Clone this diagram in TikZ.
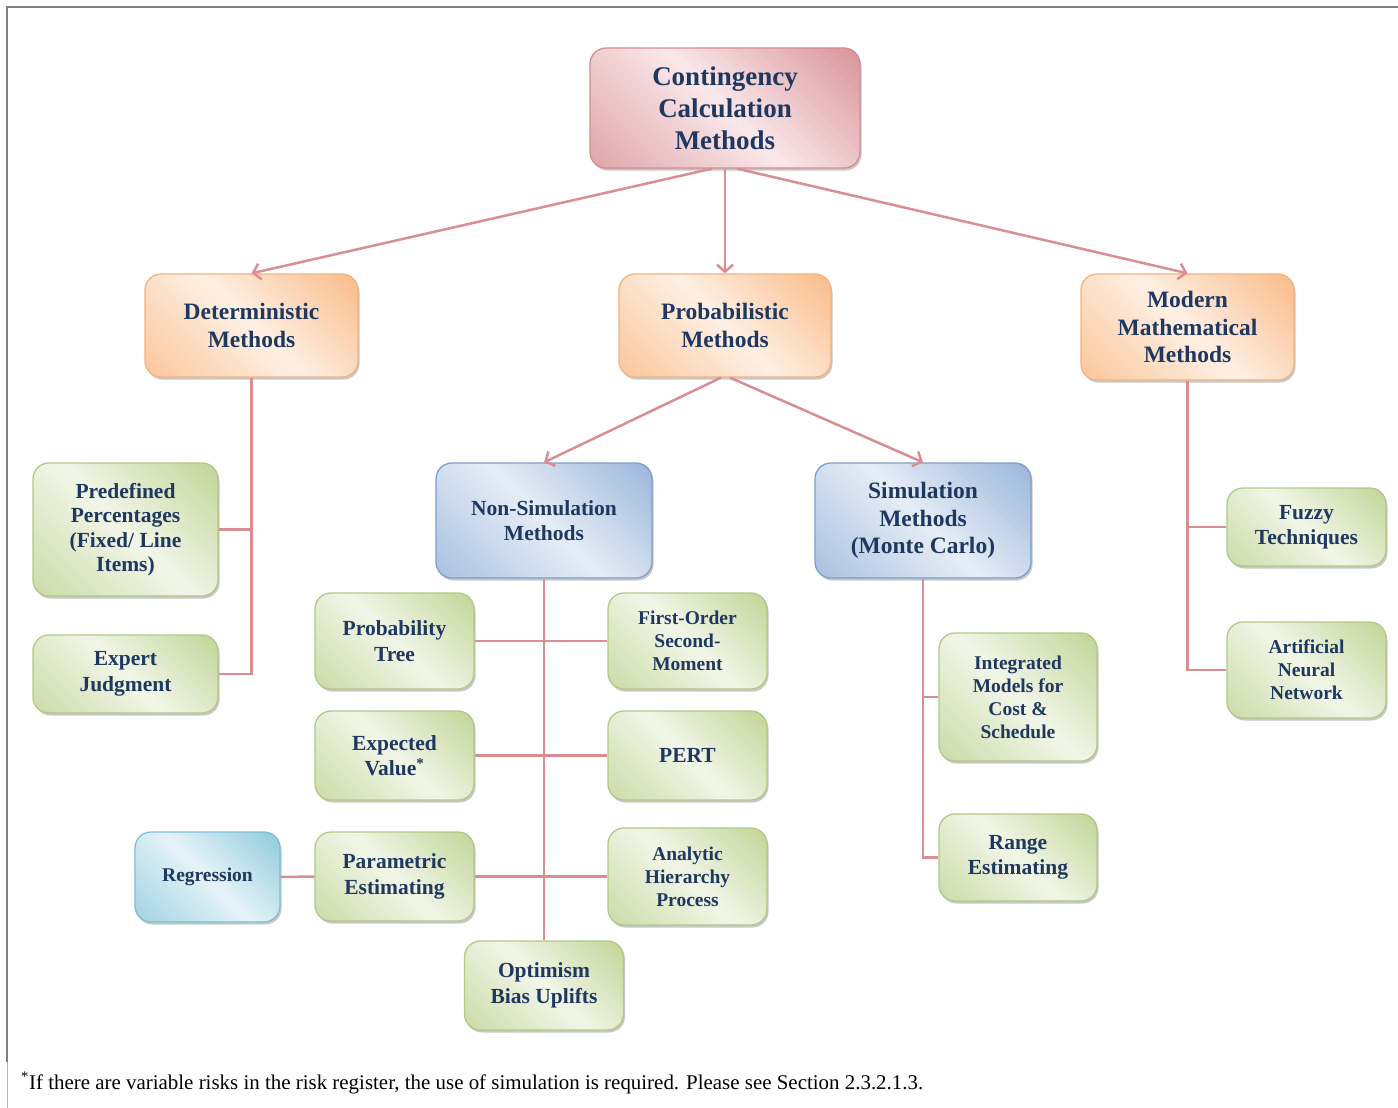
\documentclass[tikz,border=0pt]{standalone}
\usepackage{fontspec}
\setmainfont{Liberation Serif}
\usepackage{graphicx}
\usetikzlibrary{arrows.meta,calc}
\definecolor{txt}{RGB}{31,56,96}
\definecolor{connc}{RGB}{217,142,146}
\definecolor{pinkD}{RGB}{216,146,151}
\definecolor{pinkL}{RGB}{250,232,234}
\definecolor{pinkB}{RGB}{212,140,146}
\definecolor{orD}{RGB}{250,186,134}
\definecolor{orL}{RGB}{254,240,228}
\definecolor{orB}{RGB}{244,178,128}
\definecolor{blD}{RGB}{152,180,218}
\definecolor{blL}{RGB}{230,237,246}
\definecolor{blB}{RGB}{126,158,204}
\definecolor{grD}{RGB}{192,212,148}
\definecolor{grL}{RGB}{242,246,232}
\definecolor{grB}{RGB}{178,200,134}
\definecolor{cyD}{RGB}{140,202,218}
\definecolor{cyL}{RGB}{230,243,248}
\definecolor{cyB}{RGB}{124,190,210}
\definecolor{framec}{RGB}{128,128,128}
% #1 options, #2 name, #3 cx, #4 cy, #5 w, #6 h, #7 dark, #8 light, #9 text
\newcommand\gnode[9][]{%
  \fill[black!55, opacity=0.4, rounded corners=16pt] ({#3-#5/2+1.5},{#4-#6/2+2.5}) rectangle ({#3+#5/2+1.5},{#4+#6/2+2.5});
  \begin{scope}
    \clip[rounded corners=16pt] ({#3-#5/2},{#4-#6/2}) rectangle ({#3+#5/2},{#4+#6/2});
    \pgfmathsetmacro\gL{(#5+#6)/2.8284+2}
    \begin{scope}[shift={(#3,#4)}, rotate=45]
      \foreach \i in {-20,...,19}{%
        \pgfmathsetmacro\sA{\i*\gL/20}%
        \pgfmathsetmacro\sB{(\i+1)*\gL/20+0.8}%
        \pgfmathsetmacro\pp{\i<0 ? min(100,abs(\i+0.5)/20*80) : min(100,abs(\i+0.5)/20*100)}%
        \fill[#7!\pp!#8] (\sA pt,-300pt) rectangle (\sB pt,300pt);
      }
    \end{scope}
  \end{scope}
  \node[base,#1,minimum width=#5pt,minimum height=#6pt] (#2) at (#3,#4) {#9};
}
\tikzset{
  base/.style={rounded corners=16pt, draw, line width=1.3pt, align=center, text=txt, inner sep=0pt},
  pinkbox/.style={draw=pinkB},
  orbox/.style={draw=orB},
  blbox/.style={draw=blB},
  grbox/.style={draw=grB},
  cybox/.style={draw=cyB},
  fA/.style={font=\bfseries\fontsize{27}{32}\selectfont},
  fB/.style={font=\bfseries\fontsize{23.5}{27.5}\selectfont},
  fC/.style={font=\bfseries\fontsize{21.5}{25.5}\selectfont},
  fD/.style={font=\bfseries\fontsize{19.5}{23}\selectfont},
  link/.style={draw=connc, line width=2.5pt},
  arr/.style={link, -{Straight Barb[length=7pt,width=16pt,line width=2.5pt]}}
}
\begin{document}
\begin{tikzpicture}[x=1pt,y=-1pt]
\useasboundingbox (0,0) rectangle (1398,1108);
\draw[framec, line width=2.5pt] (7,1062) -- (7,7) -- (1398,7);
\draw[framec!60, line width=1pt] (7,1062) -- (7,1108);

\gnode[pinkbox,fA]{top}{725}{108}{270}{120}{pinkD}{pinkL}{Contingency\\Calculation\\Methods}
\gnode[orbox,fB]{det}{251.5}{325.5}{213}{103}{orD}{orL}{Deterministic\\Methods}
\gnode[orbox,fB]{prob}{725}{325.5}{212}{103}{orD}{orL}{Probabilistic\\Methods}
\gnode[orbox,fB]{mod}{1187.5}{327}{213}{106}{orD}{orL}{Modern\\Mathematical\\Methods}
\gnode[blbox,fC]{nonsim}{544}{520.5}{216}{115}{blD}{blL}{Non-Simulation\\Methods}
\gnode[blbox,fB]{sim}{923}{520.5}{216}{115}{blD}{blL}{Simulation\\Methods\\(Monte Carlo)}
\gnode[grbox,font=\bfseries\fontsize{21.5}{24.5}\selectfont]{pred}{125.5}{529.5}{185}{133}{grD}{grL}{Predefined\\Percentages\\(Fixed/ Line\\Items)}
\gnode[grbox,fC]{expert}{125.5}{674}{185}{78}{grD}{grL}{Expert\\Judgment}
\gnode[grbox,fC]{ptree}{394.5}{641}{159}{96}{grD}{grL}{Probability\\Tree}
\gnode[grbox,fD]{fosm}{687.5}{641}{159}{96}{grD}{grL}{First-Order\\Second-\\Moment}
\gnode[grbox,fC]{ev}{394.5}{755.5}{159}{89}{grD}{grL}{Expected\\Value\textsuperscript{*}}
\gnode[grbox,fC]{pert}{687.5}{755.5}{159}{89}{grD}{grL}{PERT}
\gnode[cybox,fD]{reg}{207.5}{877}{145}{90}{cyD}{cyL}{Regression}
\gnode[grbox,fC]{param}{394.5}{876.5}{159}{89}{grD}{grL}{Parametric\\Estimating}
\gnode[grbox,fD]{ahp}{687.5}{876.5}{159}{97}{grD}{grL}{Analytic\\Hierarchy\\Process}
\gnode[grbox,fC]{opt}{544}{985.5}{159}{89}{grD}{grL}{Optimism\\Bias Uplifts}
\gnode[grbox,fD]{imc}{1018}{697}{158}{128}{grD}{grL}{Integrated\\Models for\\Cost \&\\Schedule}
\gnode[grbox,fC]{range}{1018}{857.5}{158}{87}{grD}{grL}{Range\\Estimating}
\gnode[grbox,fC]{fuzzy}{1306.5}{527}{159}{78}{grD}{grL}{Fuzzy\\Techniques}
\gnode[grbox,fD]{ann}{1306.5}{670}{159}{96}{grD}{grL}{Artificial\\Neural\\Network}

\draw[arr] ([xshift=-13pt]top.south) -- (det.north);
\draw[arr] (top.south) -- (prob.north);
\draw[arr] ([xshift=12pt]top.south) -- (mod.north);
\draw[arr] ([xshift=-4pt]prob.south) -- (nonsim.north);
\draw[arr] ([xshift=5pt]prob.south) -- (sim.north);
\draw[link] (det.south) |- (expert.east);
\draw[link] (det.south |- pred.east) -- (pred.east);
\draw[link] (nonsim.south) -- (opt.north);
\draw[link] (ptree.east) -- (fosm.west);
\draw[link] (ev.east) -- (pert.west);
\draw[link] (param.east) -- (ahp.west);
\draw[link] (reg.east) -- (param.west);
\draw[link] (sim.south) |- (range.west);
\draw[link] (sim.south |- imc.west) -- (imc.west);
\draw[link] (mod.south) |- (ann.west);
\draw[link] (mod.south |- fuzzy.west) -- (fuzzy.west);

\node[anchor=base west, inner sep=0pt] (note) at (21,1089) {\resizebox{902pt}{!}{\fontsize{17}{20}\selectfont\textsuperscript{*}If there are variable risks in the risk register, the use of simulation is required. Please see Section 2.3.2.1.3.}};
\end{tikzpicture}
\end{document}
